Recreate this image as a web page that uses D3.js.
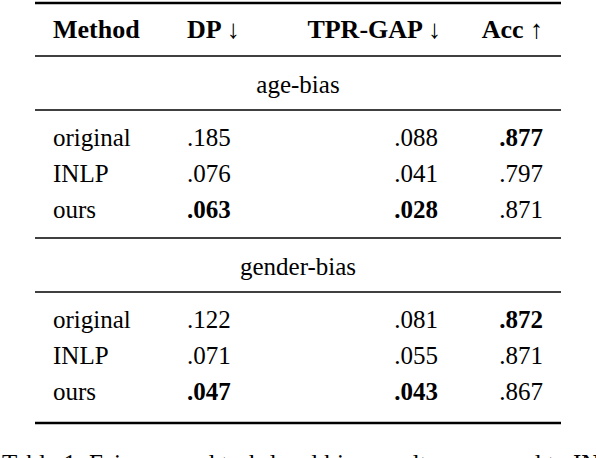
<!DOCTYPE html><html><head><meta charset="utf-8"><script src="https://cdn.jsdelivr.net/npm/d3@7"></script>
<style>body{margin:0;background:#fff}</style></head><body><svg id="c" width="596" height="458"></svg>
<script>
const headers=["Method","DP ↓","TPR-GAP ↓","Acc ↑"];
const groups=["age-bias","gender-bias"];
const methods=["original","INLP","ours"];
const dp=[[".185",".076",".063"],[".122",".071",".047"]];
const tpr=[[".088",".041",".028"],[".081",".055",".043"]];
const acc=[[".877",".797",".871"],[".872",".871",".867"]];
const bold={dp:[2,2],tpr:[2,2],acc:[0,0]};
const svg=d3.select("#c"),F="Liberation Serif, Times New Roman, serif";
const line=(y,w)=>svg.append("line").attr("x1",35).attr("x2",561).attr("y1",y).attr("y2",y).attr("stroke","#000").attr("stroke-width",w);
const txt=(x,y,s,a,b,fs)=>svg.append("text").attr("x",x).attr("y",y).attr("text-anchor",a||"start").attr("font-family",F).attr("font-size",fs||25).attr("font-weight",b?"bold":"normal").text(s);
line(3,2.5);
txt(53,38,headers[0],"start",1,26);txt(187,38,headers[1],"start",1,26);txt(441,38,headers[2],"end",1,26);txt(543,38,headers[3],"end",1,26);
line(56,1.3);
groups.forEach((g,gi)=>{
 const y0=gi===0?56:238;
 txt(298,y0+37,g,"middle");
 line(y0+54,1.3);
 methods.forEach((m,i)=>{
  const y=y0+90+i*36;
  txt(53,y,m);
  txt(187,y,dp[gi][i],"start",bold.dp[gi]===i);
  txt(438,y,tpr[gi][i],"end",bold.tpr[gi]===i);
  txt(543,y,acc[gi][i],"end",bold.acc[gi]===i);
 });
 if(gi===0) line(238,1.3);
});
line(423,2.5);
svg.append("text").attr("x",2).attr("y",472).attr("font-family",F).attr("font-size",25).text("Table 1: Fairness and task-level bias results compared to INLP");
</script></body></html>
